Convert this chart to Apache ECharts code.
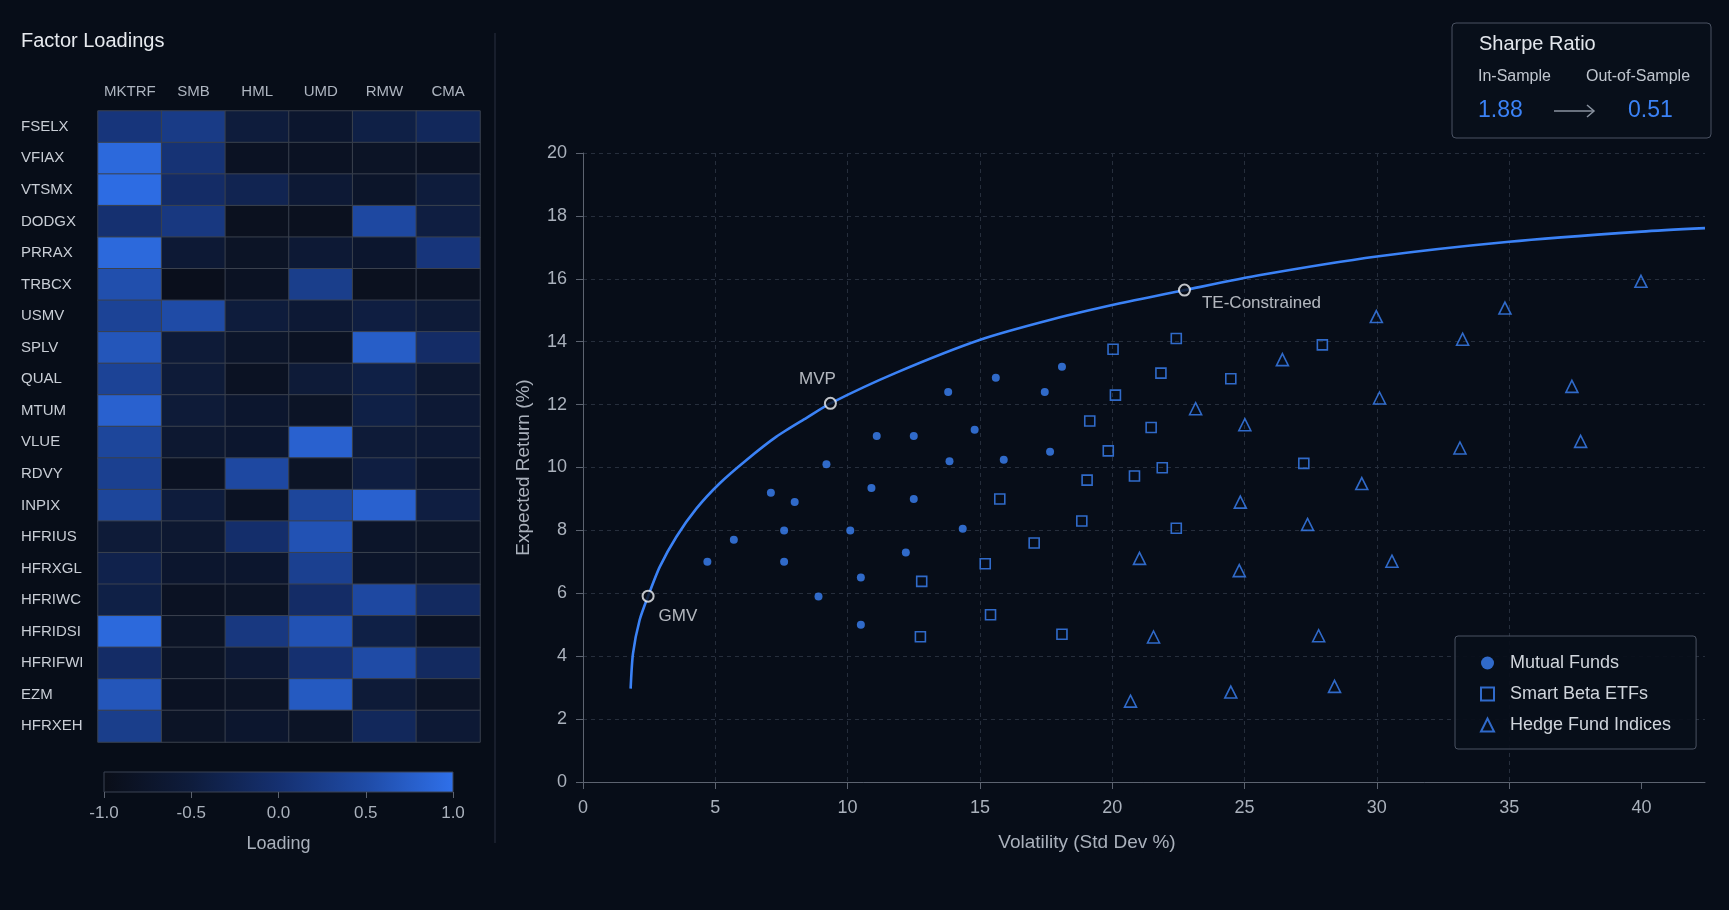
<!DOCTYPE html>
<html>
<head>
<meta charset="utf-8">
<script src="https://cdn.jsdelivr.net/npm/echarts@6/dist/echarts.min.js"></script>
<style>
  html, body { margin: 0; padding: 0; background: #070d18; }
  #chart { width: 1729px; height: 910px; }
</style>
</head>
<body>
<div id="chart"></div>
<script>
// factor loadings heatmap
const factors = ['MKTRF', 'SMB', 'HML', 'UMD', 'RMW', 'CMA']
const funds = ['FSELX', 'VFIAX', 'VTSMX', 'DODGX', 'PRRAX', 'TRBCX', 'USMV', 'SPLV', 'QUAL', 'MTUM',
  'VLUE', 'RDVY', 'INPIX', 'HFRIUS', 'HFRXGL', 'HFRIWC', 'HFRIDSI', 'HFRIFWI', 'EZM', 'HFRXEH']
const loadings = [
  [0.1, 0.2, -0.5, -0.7, -0.4, -0.2],
  [0.9, 0.05, -0.85, -0.85, -0.8, -0.85],
  [0.95, -0.1, -0.3, -0.6, -0.75, -0.5],
  [0.0, 0.15, -0.9, -0.9, 0.45, -0.45],
  [0.9, -0.6, -0.8, -0.6, -0.7, 0.1],
  [0.55, -0.95, -0.85, 0.25, -0.9, -0.9],
  [0.35, 0.5, -0.5, -0.6, -0.45, -0.55],
  [0.65, -0.55, -0.75, -0.85, 0.75, -0.1],
  [0.35, -0.55, -0.85, -0.55, -0.4, -0.65],
  [0.8, -0.55, -0.7, -0.8, -0.4, -0.6],
  [0.4, -0.65, -0.7, 0.8, -0.55, -0.6],
  [0.3, -0.85, 0.45, -0.8, -0.45, -0.7],
  [0.4, -0.5, -0.85, 0.4, 0.8, -0.45],
  [-0.55, -0.65, -0.05, 0.6, -0.75, -0.8],
  [-0.35, -0.7, -0.7, 0.3, -0.75, -0.8],
  [-0.4, -0.85, -0.8, -0.1, 0.45, -0.15],
  [0.9, -0.8, 0.15, 0.6, -0.4, -0.85],
  [-0.1, -0.8, -0.6, 0.0, 0.5, -0.15],
  [0.65, -0.85, -0.8, 0.7, -0.55, -0.8],
  [0.25, -0.8, -0.7, -0.8, -0.2, -0.6]
]

// risk / return scatter  [vol, return]
const mutualFunds = [
  [4.7, 7.0], [5.7, 7.7], [7.1, 9.2], [7.6, 8.0], [7.6, 7.0], [8.0, 8.9], [8.9, 5.9], [9.2, 10.1],
  [10.1, 8.0], [10.5, 6.5], [10.5, 5.0], [10.9, 9.35], [11.1, 11.0], [12.2, 7.3], [12.5, 9.0],
  [12.5, 11.0], [13.8, 12.4], [13.85, 10.2], [14.35, 8.05], [14.8, 11.2], [15.6, 12.85],
  [15.9, 10.25], [17.45, 12.4], [17.65, 10.5], [18.1, 13.2]
]
const smartBeta = [
  [12.75, 4.62], [12.8, 6.38], [15.2, 6.94], [15.4, 5.32], [15.75, 9.0], [17.05, 7.6], [18.1, 4.7],
  [18.85, 8.3], [19.05, 9.6], [19.15, 11.48], [19.85, 10.53], [20.03, 13.76], [20.12, 12.3],
  [20.84, 9.73], [21.47, 11.27], [21.84, 13.0], [21.89, 9.99], [22.42, 14.1], [22.42, 8.07],
  [24.48, 12.82], [27.24, 10.13], [27.94, 13.9]
]
const hedgeFunds = [
  [20.69, 2.57], [21.03, 7.11], [21.56, 4.61], [23.15, 11.87], [24.48, 2.86], [24.8, 6.72],
  [24.84, 8.9], [25.01, 11.36], [26.43, 13.43], [27.38, 8.19], [27.8, 4.65], [28.4, 3.04],
  [29.43, 9.49], [29.98, 14.8], [30.1, 12.21], [30.57, 7.02], [33.14, 10.62], [33.24, 14.08],
  [34.84, 15.07], [37.37, 12.58], [37.7, 10.83], [39.98, 15.92]
]
const frontier = [
  [1.80, 2.97], [1.89, 4.09], [2.14, 5.15], [2.46, 5.91], [2.90, 6.84], [3.53, 7.80], [4.29, 8.70],
  [5.17, 9.50], [6.18, 10.24], [7.31, 10.98], [8.45, 11.58], [9.35, 12.04], [11.8, 13.0],
  [15.01, 14.06], [17.78, 14.72], [20.3, 15.22], [22.73, 15.64], [25.6, 16.12], [30.0, 16.71],
  [35.0, 17.18], [40.0, 17.5], [42.4, 17.61]
]
const portfolioNames = ['GMV', 'MVP', 'TE-Constrained']
const portfolioPoints = [[2.46, 5.91], [9.35, 12.04], [22.73, 15.64]]
const xTicks = [0, 5, 10, 15, 20, 25, 30, 35, 40]

// sharpe ratio box
const sharpeLabels = ['In-Sample', 'Out-of-Sample']
const sharpeValues = ['1.88', '0.51']

const BLUE = '#3b82f6'
const heatColors = ['#0a0e18', '#0e1c3c', '#153070', '#1f4ba6', '#2f70ea']
const FONT = '"Liberation Sans", Arial, sans-serif'

const chart = echarts.init(document.getElementById('chart'))

const heatData = []
loadings.forEach((row, r) => {
  row.forEach((v, c) => heatData.push([c, r, v]))
})

// label placement for the highlighted portfolios
const labelPos = {
  'GMV': { position: 'right', offset: [-1, 20] },
  'MVP': { position: 'top', offset: [-13, -4] },
  'TE-Constrained': { position: 'right', offset: [6, 13] }
}

const option = {
  backgroundColor: '#070d18',
  textStyle: { fontFamily: FONT },
  animation: false,
  title: {
    text: 'Factor Loadings',
    left: 21,
    top: 31,
    padding: 0,
    textStyle: { fontSize: 20, fontWeight: 'normal', color: '#e6e9ee', fontFamily: FONT }
  },
  grid: [
    { left: 98, top: 111, width: 382, height: 631 },
    { left: 583, top: 153, right: 24, bottom: 128 },
    {
      left: 104, top: 772, width: 349, height: 20, show: true,
      borderColor: '#3a4252', borderWidth: 1,
      backgroundColor: new echarts.graphic.LinearGradient(0, 0, 1, 0,
        heatColors.map((c, i) => ({ offset: i / (heatColors.length - 1), color: c })))
    }
  ],
  xAxis: [
    {
      gridIndex: 0, type: 'category', data: factors, position: 'top',
      axisLine: { show: false }, axisTick: { show: false }, splitLine: { show: false },
      axisLabel: { color: '#aeb5c0', fontSize: 15, margin: 12, interval: 0 }
    },
    {
      gridIndex: 1, type: 'value', min: 0, max: 42.4, interval: 5,
      name: 'Volatility (Std Dev %)', nameLocation: 'middle', nameGap: 51,
      nameTextStyle: { color: '#aab1bc', fontSize: 19, padding: [0, 114, 0, 0] },
      axisLine: { lineStyle: { color: '#5c6370' } },
      axisTick: { show: true, length: 7, lineStyle: { color: '#5c6370' }, customValues: xTicks },
      axisLabel: { color: '#aab1bc', fontSize: 18, margin: 17, customValues: xTicks },
      splitLine: { show: true, showMaxLine: false, lineStyle: { color: '#262e3c', type: [4, 4] } }
    },
    {
      gridIndex: 2, type: 'value', min: -1, max: 1, interval: 0.5,
      name: 'Loading', nameLocation: 'middle', nameGap: 43,
      nameTextStyle: { color: '#aab1bc', fontSize: 18 },
      axisLine: { show: false },
      axisTick: { show: true, length: 6, lineStyle: { color: '#5c6370' } },
      axisLabel: { color: '#aab1bc', fontSize: 17, margin: 13, formatter: v => v.toFixed(1) },
      splitLine: { show: false }
    }
  ],
  yAxis: [
    {
      gridIndex: 0, type: 'category', data: funds, inverse: true,
      axisLine: { show: false }, axisTick: { show: false }, splitLine: { show: false },
      axisLabel: { color: '#c8cdd5', fontSize: 15, align: 'left', margin: 77, interval: 0 }
    },
    {
      gridIndex: 1, type: 'value', min: 0, max: 20, interval: 2,
      name: 'Expected Return (%)', nameLocation: 'middle', nameGap: 50,
      nameTextStyle: { color: '#aab1bc', fontSize: 19 },
      axisLine: { show: true, lineStyle: { color: '#5c6370' } },
      axisTick: { show: true, length: 7, lineStyle: { color: '#5c6370' } },
      axisLabel: { color: '#aab1bc', fontSize: 18, margin: 16 },
      splitLine: { show: true, lineStyle: { color: '#262e3c', type: [4, 4] } }
    },
    { gridIndex: 2, type: 'value', show: false, min: 0, max: 1 }
  ],
  visualMap: {
    show: false, seriesIndex: 0, min: -1, max: 1,
    inRange: { color: heatColors }
  },
  legend: {
    data: ['Mutual Funds', 'Smart Beta ETFs', 'Hedge Fund Indices'],
    orient: 'vertical',
    left: 1455, top: 636,
    padding: [18, 25, 15, 25],
    itemGap: 13, itemWidth: 13, itemHeight: 13,
    borderColor: '#4a5262', borderWidth: 1, borderRadius: 3,
    backgroundColor: 'rgba(8,14,26,0.92)',
    textStyle: { color: '#d0d5dc', fontSize: 18, padding: [0, 0, 0, 11] }
  },
  series: [
    {
      type: 'heatmap', xAxisIndex: 0, yAxisIndex: 0, data: heatData,
      itemStyle: { borderColor: '#3a414e', borderWidth: 1 },
      emphasis: { disabled: true }
    },
    {
      type: 'line', name: 'Frontier', xAxisIndex: 1, yAxisIndex: 1, data: frontier,
      smooth: 0.25, showSymbol: false, z: 3,
      lineStyle: { color: BLUE, width: 2.6 }
    },
    {
      type: 'scatter', name: 'Mutual Funds', xAxisIndex: 1, yAxisIndex: 1, data: mutualFunds,
      symbol: 'circle', symbolSize: 8, itemStyle: { color: BLUE }
    },
    {
      type: 'scatter', name: 'Smart Beta ETFs', xAxisIndex: 1, yAxisIndex: 1, data: smartBeta,
      symbol: 'rect', symbolSize: 10,
      itemStyle: { color: 'rgba(0,0,0,0)', borderColor: BLUE, borderWidth: 1.6 }
    },
    {
      type: 'scatter', name: 'Hedge Fund Indices', xAxisIndex: 1, yAxisIndex: 1, data: hedgeFunds,
      symbol: 'triangle', symbolSize: 12,
      itemStyle: { color: 'rgba(0,0,0,0)', borderColor: BLUE, borderWidth: 1.6 }
    },
    {
      type: 'scatter', name: 'Portfolios', xAxisIndex: 1, yAxisIndex: 1, z: 5,
      data: portfolioNames.map((n, i) => ({
        name: n, value: portfolioPoints[i],
        label: Object.assign({ show: true, formatter: '{b}', color: '#dde1e7', fontSize: 17 }, labelPos[n])
      })),
      symbol: 'circle', symbolSize: 11,
      itemStyle: { color: '#070d18', borderColor: '#f0f2f5', borderWidth: 2 }
    }
  ],
  graphic: [
    // separator between the panels
    { type: 'line', shape: { x1: 495, y1: 33, x2: 495, y2: 843 }, style: { stroke: '#2a3140', lineWidth: 1 } },
    // sharpe ratio box
    {
      type: 'rect', shape: { x: 1452, y: 23, width: 259, height: 115, r: 4 },
      style: { fill: 'rgba(10,16,28,0.6)', stroke: '#4a5262', lineWidth: 1 }
    },
    { type: 'text', x: 1479, y: 44, style: { text: 'Sharpe Ratio', fill: '#e2e6ec', font: '20px ' + FONT, verticalAlign: 'middle' } },
    { type: 'text', x: 1478, y: 77, style: { text: sharpeLabels[0], fill: '#c0c6cf', font: '16px ' + FONT, verticalAlign: 'middle' } },
    { type: 'text', x: 1586, y: 77, style: { text: sharpeLabels[1], fill: '#c0c6cf', font: '16px ' + FONT, verticalAlign: 'middle' } },
    { type: 'text', x: 1478, y: 111, style: { text: sharpeValues[0], fill: BLUE, font: '23px ' + FONT, verticalAlign: 'middle' } },
    { type: 'text', x: 1628, y: 111, style: { text: sharpeValues[1], fill: BLUE, font: '23px ' + FONT, verticalAlign: 'middle' } },
    { type: 'line', shape: { x1: 1554, y1: 111, x2: 1594, y2: 111 }, style: { stroke: '#8a93a0', lineWidth: 1.5 } },
    { type: 'polyline', shape: { points: [[1587, 105], [1594, 111], [1587, 117]] }, style: { stroke: '#8a93a0', lineWidth: 1.5, fill: null } }
  ]
}

chart.setOption(option)
</script>
</body>
</html>
